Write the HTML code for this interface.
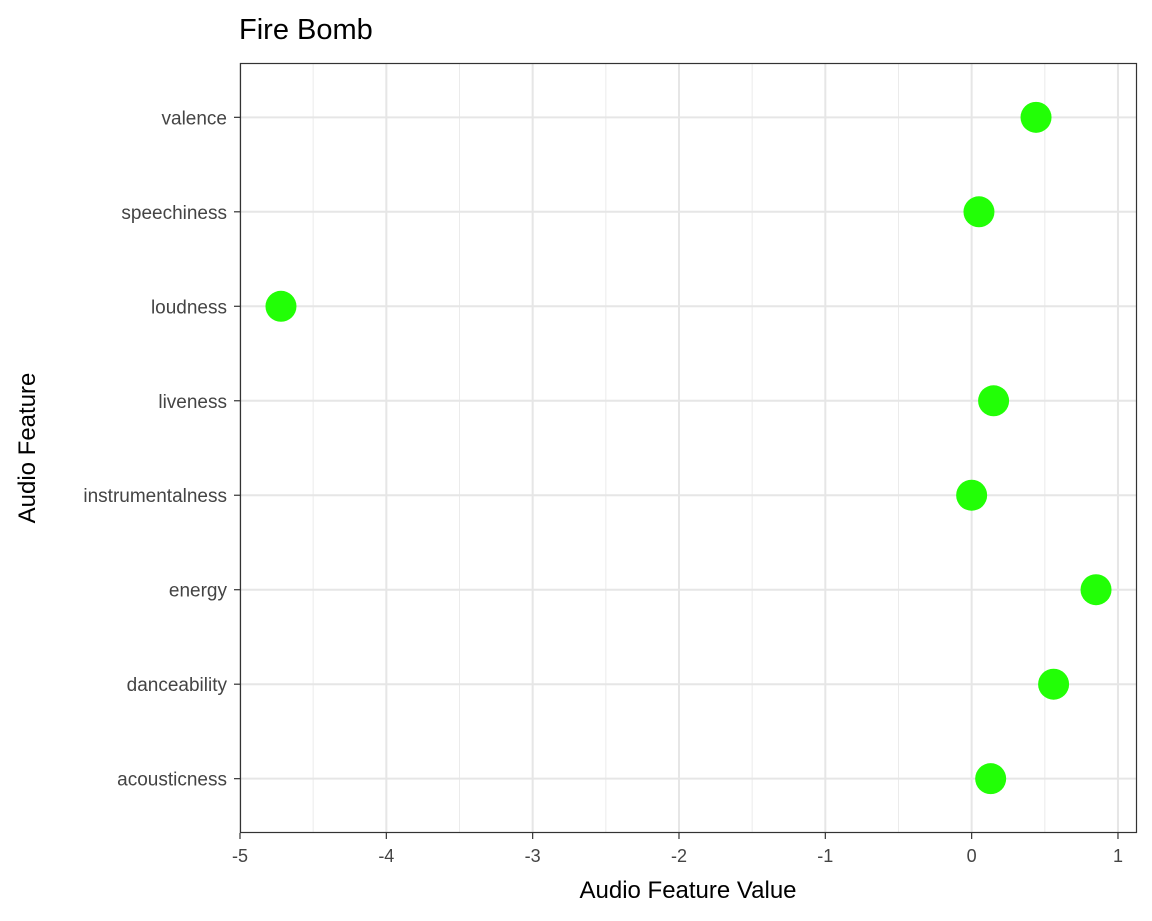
<!DOCTYPE html>
<html><head><meta charset="utf-8">
<style>
html,body{margin:0;padding:0;background:#fff;}
svg{display:block;font-family:"Liberation Sans",Arial,sans-serif;}
</style></head>
<body>
<svg id="chart" width="1152" height="921" viewBox="0 0 1152 921">
<text x="239" y="39" font-size="29" fill="#000">Fire Bomb</text>
<g id="grid"></g>
<g id="points"></g>
<rect x="240.5" y="63.5" width="896" height="769" fill="none" stroke="#333" stroke-width="1.2"/>
<g id="axes"></g>
<text x="688" y="898" font-size="24" text-anchor="middle" fill="#000">Audio Feature Value</text>
<text transform="translate(35,448) rotate(-90)" font-size="24" text-anchor="middle" fill="#000">Audio Feature</text>
</svg>
<script>
const categories = ["acousticness","danceability","energy","instrumentalness","liveness","loudness","speechiness","valence"];
const values = [0.13, 0.56, 0.85, 0.0, 0.15, -4.72, 0.05, 0.44];
const xTicks = [-5,-4,-3,-2,-1,0,1];
const xMinor = [-4.5,-3.5,-2.5,-1.5,-0.5,0.5];

const NS="http://www.w3.org/2000/svg";
const L=240, R=1137, T=63, B=833;
const xMin=-5, xMax=1.13;
function xs(v){return L+(v-xMin)/(xMax-xMin)*(R-L);}
const step=(B-T)/(categories.length-1+1.15);
function ys(i){return B-0.575*step-i*step;}
function mk(tag,attrs,parent){const e=document.createElementNS(NS,tag);for(const k in attrs)e.setAttribute(k,attrs[k]);parent.appendChild(e);return e;}
const grid=document.getElementById('grid'), pts=document.getElementById('points'), axes=document.getElementById('axes');

xMinor.forEach(v=>{
  const l=mk('line',{x1:xs(v),x2:xs(v),y1:T,y2:B,stroke:'#ebebeb','stroke-width':1},grid);
  
  
});
xTicks.forEach(v=>{
  const l=mk('line',{x1:xs(v),x2:xs(v),y1:T,y2:B,stroke:'#e6e6e6','stroke-width':2},grid);
  
  
  const t=mk('line',{x1:xs(v),x2:xs(v),y1:B,y2:B+6,stroke:'#333','stroke-width':1.2},axes);
  
  
  const tx=mk('text',{x:xs(v),y:B+29,'font-size':18,'text-anchor':'middle',fill:'#444'},axes);
  tx.textContent=v;
  
  
});
categories.forEach((c,i)=>{
  const y=ys(i);
  const g=mk('line',{x1:L,x2:R,y1:y,y2:y,stroke:'#e6e6e6','stroke-width':2},grid);
  
  
  const t=mk('line',{x1:L-6,x2:L,y1:y,y2:y,stroke:'#333','stroke-width':1.2},axes);
  
  
  const tx=mk('text',{x:L-13,y:y+7,'font-size':19,'text-anchor':'end',fill:'#444'},axes);
  tx.textContent=c;
  
  
  const p=mk('circle',{cx:xs(values[i]),cy:y,r:15.5,fill:'#22ff06'},pts);
  
  
});
</script>
</body></html>
